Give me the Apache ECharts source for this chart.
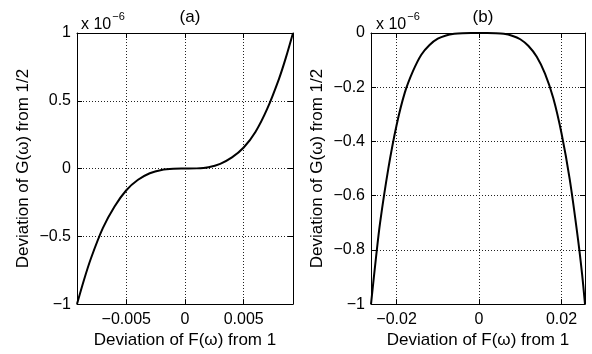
<!DOCTYPE html>
<html>
<head>
<meta charset="utf-8">
<script src="https://cdn.jsdelivr.net/npm/echarts@6/dist/echarts.min.js"></script>
<style>
  html, body { margin: 0; padding: 0; background: #fff; }
  #chart { width: 592px; height: 354px; }
</style>
</head>
<body>
<div id="chart"></div>
<script>
// panel (a): deviation of F vs deviation of G (G in units of 1e-6)
const aX = [-0.0092, -0.0086, -0.008, -0.007, -0.006, -0.005, -0.004, -0.003, -0.002, -0.001, 0,
  0.001, 0.002, 0.003, 0.004, 0.005, 0.006, 0.007, 0.008, 0.0086, 0.0092];
const aY = [-1, -0.82, -0.66, -0.44, -0.28, -0.16, -0.083, -0.035, -0.01, -0.0013, 0,
  0.0013, 0.01, 0.035, 0.082, 0.155, 0.27, 0.44, 0.66, 0.82, 1];

// panel (b)
const bX = [-0.0262, -0.025, -0.024, -0.022, -0.02, -0.018, -0.016, -0.014, -0.012, -0.01, -0.008, -0.006, -0.004, -0.002, 0,
  0.002, 0.004, 0.006, 0.008, 0.01, 0.012, 0.014, 0.016, 0.018, 0.02, 0.022, 0.024, 0.025, 0.0257];
const bY = [-1, -0.83, -0.7, -0.5, -0.34, -0.22, -0.14, -0.08, -0.044, -0.021, -0.009, -0.003, -0.0005, 0, 0,
  0, -0.0006, -0.003, -0.01, -0.023, -0.048, -0.088, -0.15, -0.24, -0.37, -0.54, -0.76, -0.89, -1];

const aXTicks = [-0.005, 0, 0.005];
const bXTicks = [-0.02, 0, 0.02];
const titles = ['(a)', '(b)'];
const xName = 'Deviation of F(\u03c9) from 1';
const yName = 'Deviation of G(\u03c9) from 1/2';

const font = '"Liberation Sans", Arial, Helvetica, sans-serif';
const minus = v => String(v).replace('-', '\u2212');
const dotted = { show: true, lineStyle: { color: '#222', width: 1, type: [1, 2] } };
const line = { show: true, onZero: false, lineStyle: { color: '#000', width: 1 } };
const tick = { show: true, inside: true, length: 5, lineStyle: { color: '#000' } };

function xAxes(grid, min, max, ticks) {
  return [{
    type: 'value', gridIndex: grid, min: min, max: max, position: 'bottom',
    axisLine: line,
    axisTick: Object.assign({ customValues: ticks }, tick),
    axisLabel: { customValues: ticks, formatter: minus, color: '#000', fontSize: 16, fontFamily: font, margin: 7 },
    splitLine: dotted,
    name: xName, nameLocation: 'middle', nameGap: 25,
    nameTextStyle: { color: '#000', fontSize: 17, fontFamily: font }
  }, {
    type: 'value', gridIndex: grid, min: min, max: max, position: 'top',
    axisLine: line,
    axisTick: Object.assign({ customValues: ticks }, tick),
    axisLabel: { show: false, customValues: ticks },
    splitLine: { show: false }
  }];
}

function yAxes(grid, min, max, step, gap) {
  return [{
    type: 'value', gridIndex: grid, min: min, max: max, interval: step, position: 'left',
    axisLine: line, axisTick: tick,
    axisLabel: { formatter: minus, color: '#000', fontSize: 16, fontFamily: font, margin: 6 },
    splitLine: dotted,
    name: yName, nameLocation: 'middle', nameGap: gap,
    nameTextStyle: { color: '#000', fontSize: 17, fontFamily: font }
  }, {
    type: 'value', gridIndex: grid, min: min, max: max, interval: step, position: 'right',
    axisLine: line, axisTick: tick,
    axisLabel: { show: false },
    splitLine: { show: false }
  }];
}

const scaleText = {
  text: '{b|x 10}{s|\u22126}', top: 2,
  textStyle: { fontWeight: 'normal', rich: {
    b: { fontSize: 16, fontWeight: 'normal', fontFamily: font, color: '#000', padding: [10, 0, 0, 0] },
    s: { fontSize: 11, fontWeight: 'normal', fontFamily: font, color: '#000', padding: [0, 0, 6, 1] } } }
};

const chart = echarts.init(document.getElementById('chart'));
chart.setOption({
  backgroundColor: '#fff',
  animation: false,
  grid: [
    { left: 77, right: 299, top: 33, bottom: 48 },
    { left: 371, right: 7, top: 33, bottom: 47 }
  ],
  title: [
    { text: titles[0], left: 185, top: 4, textAlign: 'center',
      textStyle: { color: '#000', fontSize: 17, fontWeight: 'normal', fontFamily: font } },
    { text: titles[1], left: 478, top: 4, textAlign: 'center',
      textStyle: { color: '#000', fontSize: 17, fontWeight: 'normal', fontFamily: font } },
    Object.assign({ left: 76 }, scaleText),
    Object.assign({ left: 371 }, scaleText)
  ],
  xAxis: xAxes(0, -0.0092, 0.0092, aXTicks).concat(xAxes(1, -0.0262, 0.0257, bXTicks)),
  yAxis: yAxes(0, -1, 1, 0.5, 45).concat(yAxes(1, -1, 0, 0.2, 45)),
  series: [
    { type: 'line', xAxisIndex: 0, yAxisIndex: 0, data: aX.map((x, i) => [x, aY[i]]),
      showSymbol: false, smooth: 0.3, lineStyle: { color: '#000', width: 2 } },
    { type: 'line', xAxisIndex: 2, yAxisIndex: 2, data: bX.map((x, i) => [x, bY[i]]),
      showSymbol: false, smooth: 0.3, lineStyle: { color: '#000', width: 2 } }
  ]
});
</script>
</body>
</html>
